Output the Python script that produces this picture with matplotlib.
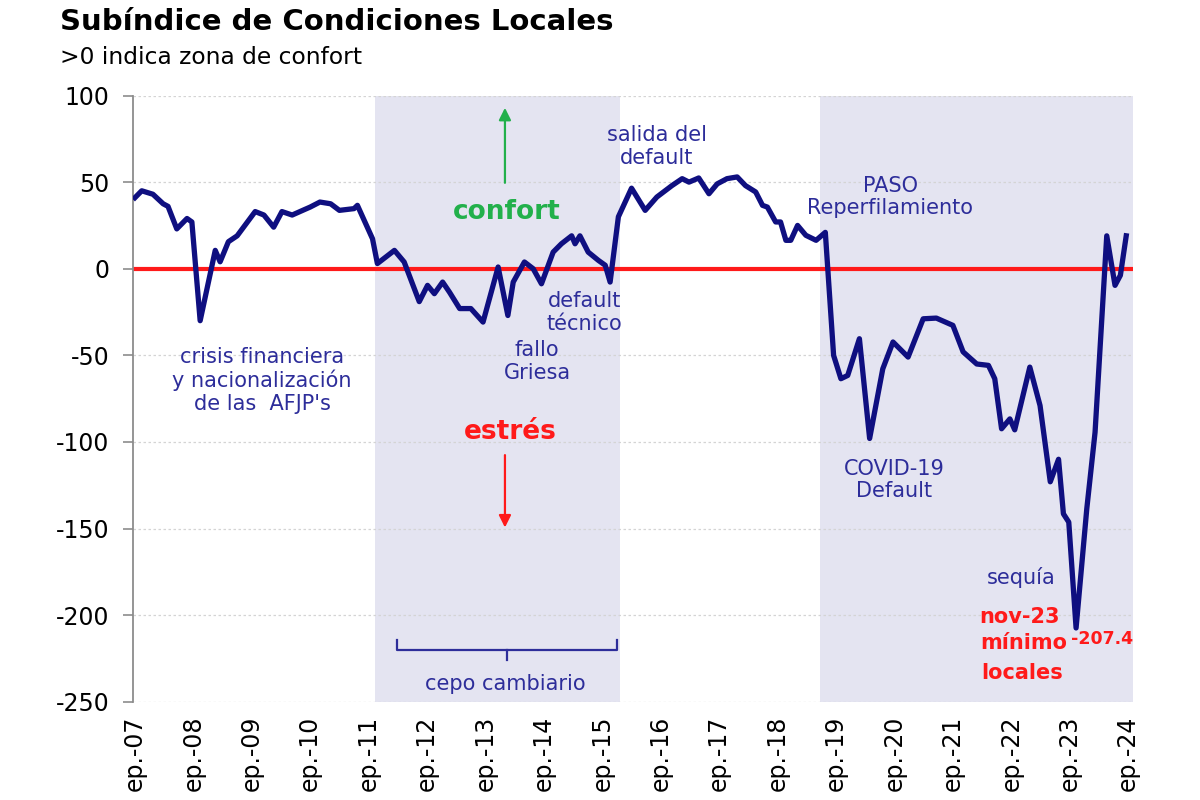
import matplotlib
matplotlib.use("Agg")

import matplotlib.pyplot as plt

# monthly index from the first tick (ep.-07 = 0)
MONTHS = [
    0, 1.4, 3.7, 5.8, 6.8, 8.6, 10.7, 11.7, 13.4, 16.5, 17.5, 19.2, 21,
    24.7, 26.5, 28.5, 30.2, 32.3, 34.7, 36, 38, 40.2, 42, 45, 45.7,
    48.8, 49.8, 53.3, 55.3, 58.4, 60.1, 61.5, 63.2, 64.6, 66.7, 69, 71.5,
    74.6, 76.6, 77.7, 80, 81.8, 83.5, 85.9, 87.6, 89.7, 90.4, 91.4, 93.1,
    95.2, 96.6, 97.6, 99.3, 102, 104.8, 107.2, 110.3, 112.4, 113.8, 115.8,
    117.9, 119.6, 121.6, 123.7, 125.4, 127.5, 128.9, 129.9, 131.6, 132.6,
    133.7, 134.7, 136.1, 137.8, 139.9, 141.8, 143.5, 145, 146.4, 148.8,
    150.9, 153.6, 155.7, 158.8, 161.9, 164.6, 168, 170.1, 172.9, 175.3,
    176.6, 178, 179.7, 180.7, 183.8, 185.9, 188, 189.7, 190.7, 191.8,
    193.3, 195.5, 197.2, 199.6, 201.3, 202.4, 203.6,
]
VALUES = [
    41, 45, 43, 37.5, 36, 23, 29, 27, -30, 10.6, 4, 15.6, 19,
    33, 31, 24, 33, 31, 34, 35.6, 38.5, 37.5, 33.7, 34.7, 36.6,
    17.3, 3, 10.6, 3.9, -19, -9.6, -14.4, -7.7, -13.5, -23, -23, -30.8,
    1, -27, -7.7, 3.9, 0, -8.7, 9.6, 14.4, 19, 14.4, 19, 9.6,
    4.8, 2, -7.7, 30, 46.5, 33.7, 41.4, 48, 52, 50, 52.4,
    43.3, 49, 52, 53, 48, 44.3, 36.6, 35.6, 27, 27,
    16.4, 16.4, 25, 19.3, 16.4, 21, -50, -63.5, -61.6, -40.4,
    -98, -57.8, -42.3, -51, -28.9, -28.5, -32.7, -48, -55, -55.8,
    -63.5, -92.4, -86.7, -93, -56.8, -79, -123, -110, -141.5, -146.3,
    -207.4, -138.6, -94.4, 19, -9.6, -3.8, 19,
]
TICK_MONTHS = list(range(0, 205, 12))
TICK_LABELS = [f"ep.-{y:02d}" for y in range(7, 25)]
Y_TICKS = [100, 50, 0, -50, -100, -150, -200, -250]

# shaded periods (month index)
SHADES = [(49.3, 99.6), (140.7, 205.5)]

NAVY_LINE = "#0f0f80"
NAVY_TEXT = "#2d2d9a"
RED = "#ff1a1a"
GREEN = "#22b04b"
SHADE = "#e4e4f1"

plt.rcParams["font.family"] = ["DejaVu Sans"]
plt.rcParams["axes.unicode_minus"] = False

fig = plt.figure(figsize=(12, 8), dpi=100)
ax = fig.add_axes([0.1108, 0.1228, 0.8334, 0.7578])

for a, b in SHADES:
    ax.axvspan(a, b, color=SHADE, lw=0, zorder=0)

for yv in Y_TICKS:
    ax.axhline(yv, color="#d4d4d4", lw=0.9, ls=(0, (2, 2)), zorder=1)

ax.axhline(0, color=RED, lw=3, zorder=2)
ax.plot(MONTHS, VALUES, color=NAVY_LINE, lw=3.8, solid_joinstyle="round", zorder=3)

ax.set_xlim(-0.4, 205.0)
ax.set_ylim(-250, 100)
ax.set_yticks(Y_TICKS)
ax.set_yticklabels([str(v) for v in Y_TICKS], fontsize=17)
ax.set_xticks(TICK_MONTHS)
ax.set_xticklabels(TICK_LABELS, rotation=90, fontsize=17, va="top")
ax.tick_params(axis="x", length=0, pad=10)
ax.tick_params(axis="y", length=7, color="#8c8c8c", pad=10, width=1.2)

for side in ["top", "right", "bottom"]:
    ax.spines[side].set_visible(False)
ax.spines["left"].set_color("#8c8c8c")
ax.spines["left"].set_linewidth(1.3)

fig.text(0.05, 0.9725, "Subíndice de Condiciones Locales", fontsize=21,
         fontweight="bold", va="center", ha="left")
fig.text(0.05, 0.9275, ">0 indica zona de confort", fontsize=16.8,
         va="center", ha="left")

note = dict(color=NAVY_TEXT, fontsize=15, ha="center", va="center", linespacing=1.15)
ax.text(26.1, -64.5, "crisis financiera\ny nacionalización\nde las  AFJP's", **note)
ax.text(82.6, -53.5, "fallo\nGriesa", **note)
ax.text(92.4, -25.2, "default\ntécnico", **note)
ax.text(107.2, 70.6, "salida del\ndefault", **note)
ax.text(155.1, 41.3, "PASO\nReperfilamiento", **note)
ax.text(155.9, -122, "COVID-19\nDefault", **note)
ax.text(182.0, -178, "sequía", **note)
ax.text(76.0, -239.8, "cepo cambiario", **note)

# comfort / stress arrows
ax.annotate("", xy=(76.0, 94.5), xytext=(76.0, 48),
            arrowprops=dict(arrowstyle="-|>", color=GREEN, lw=1.6, mutation_scale=18))
ax.text(76.4, 32.5, "confort", color=GREEN, fontsize=19, fontweight="bold",
        ha="center", va="center")
ax.annotate("", xy=(76.0, -151), xytext=(76.0, -106),
            arrowprops=dict(arrowstyle="-|>", color=RED, lw=1.6, mutation_scale=18))
ax.text(77.0, -94.5, "estrés", color=RED, fontsize=19, fontweight="bold",
        ha="center", va="center")

# bracket over "cepo cambiario"
ax.plot([53.8, 53.8, 99.0, 99.0], [-214.4, -220.2, -220.2, -214.4],
        color=NAVY_TEXT, lw=1.6, zorder=4)
ax.plot([76.4, 76.4], [-220.2, -226], color=NAVY_TEXT, lw=1.6, zorder=4)

# minimum annotation
vmin = min(VALUES)
red_note = dict(color=RED, fontweight="bold", ha="center", va="center")
ax.text(181.6, -201.2, "nov-23", fontsize=15, **red_note)
ax.text(182.6, -216.2, "mínimo", fontsize=15, **red_note)
ax.text(198.6, -214.0, f"{vmin:.1f}", fontsize=12.5, **red_note)
ax.text(182.2, -233.5, "locales", fontsize=15, **red_note)

fig.savefig("out.png", dpi=100)
